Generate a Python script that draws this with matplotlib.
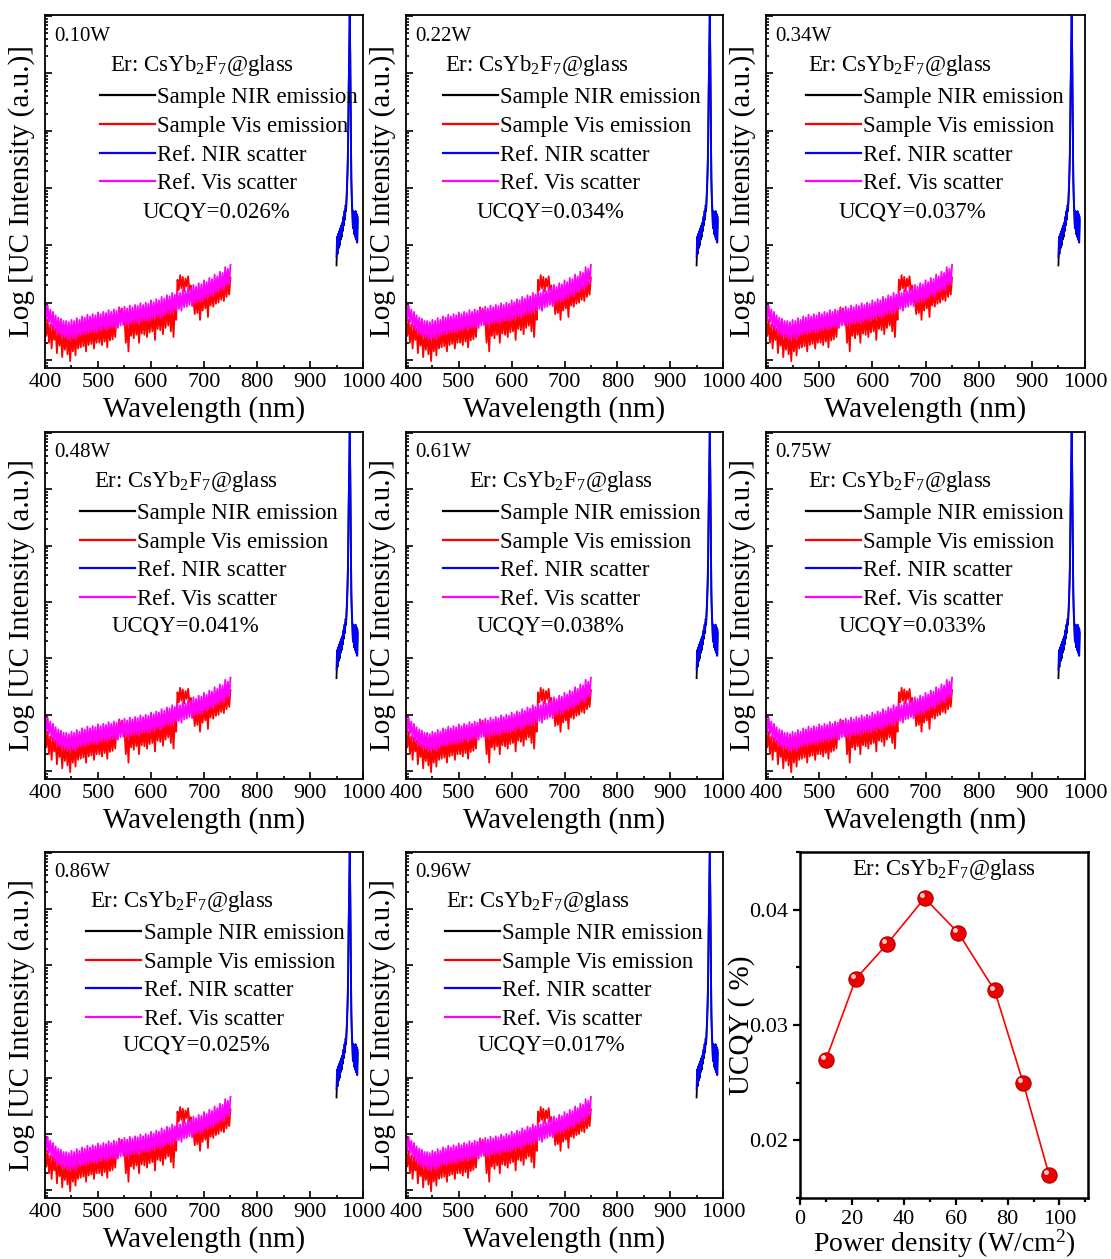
import numpy as np
import matplotlib.pyplot as plt
from matplotlib.ticker import MultipleLocator, LogLocator, NullFormatter
from matplotlib.transforms import ScaledTranslation

plt.rcParams['font.family'] = ['Liberation Serif', 'DejaVu Serif']
plt.rcParams['mathtext.fontset'] = 'custom'
plt.rcParams['mathtext.rm'] = 'Liberation Serif'
plt.rcParams['mathtext.it'] = 'Liberation Serif:italic'

# === DATA (log10 of intensity) ===
powers = ['0.10W', '0.22W', '0.34W', '0.48W', '0.61W', '0.75W', '0.86W', '0.96W']
ucqy_labels = ['0.026', '0.034', '0.037', '0.041', '0.038', '0.033', '0.025', '0.017']

# visible range, 2.5 nm steps
vis_wl = np.arange(400, 750.1, 2.5)
vis_scatter = [1.02, 0.70, 0.95, 0.66, 0.88, 0.58, 0.84, 0.55,
               0.78, 0.47, 0.74, 0.45, 0.72, 0.40, 0.68, 0.42,
               0.68, 0.36, 0.66, 0.38, 0.70, 0.39, 0.68, 0.36,
               0.73, 0.42, 0.70, 0.44, 0.76, 0.45, 0.74, 0.46,
               0.79, 0.47, 0.76, 0.49, 0.80, 0.50, 0.78, 0.48,
               0.83, 0.52, 0.80, 0.53, 0.84, 0.55, 0.82, 0.52,
               0.87, 0.56, 0.84, 0.57, 0.88, 0.58, 0.86, 0.56,
               0.90, 0.60, 0.88, 0.61, 0.93, 0.62, 0.90, 0.60,
               0.95, 0.64, 0.92, 0.65, 0.96, 0.66, 0.94, 0.64,
               0.99, 0.68, 0.96, 0.69, 1.00, 0.70, 0.98, 0.68,
               1.04, 0.72, 1.01, 0.74, 1.06, 0.76, 1.04, 0.73,
               1.10, 0.78, 1.07, 0.80, 1.13, 0.83, 1.11, 0.80,
               1.17, 0.86, 1.14, 0.87, 1.19, 0.89, 1.17, 0.86,
               1.23, 0.92, 1.20, 0.93, 1.26, 0.96, 1.24, 0.94,
               1.31, 1.00, 1.28, 1.01, 1.34, 1.04, 1.32, 1.02,
               1.39, 1.08, 1.36, 1.09, 1.43, 1.13, 1.41, 1.11,
               1.49, 1.18, 1.46, 1.19, 1.54, 1.24, 1.52, 1.22,
               1.62, 1.31, 1.59, 1.32, 1.66]
vis_emission = [0.75, 0.42, 0.70, 0.30, 0.62, 0.20, 0.60, 0.35,
                0.55, 0.12, 0.52, 0.25, 0.48, 0.05, 0.46, 0.18,
                0.45, 0.10, 0.44, -0.02, 0.47, 0.15, 0.45, 0.08,
                0.50, 0.20, 0.48, 0.22, 0.54, 0.24, 0.52, 0.15,
                0.56, 0.26, 0.54, 0.28, 0.58, 0.20, 0.56, 0.30,
                0.60, 0.30, 0.58, 0.26, 0.62, 0.32, 0.60, 0.22,
                0.64, 0.34, 0.62, 0.36, 0.66, 0.40, 0.78, 0.62,
                0.92, 0.70, 0.90, 0.66, 0.72, 0.30, 0.68, 0.15,
                0.72, 0.42, 0.70, 0.38, 0.74, 0.44, 0.72, 0.30,
                0.76, 0.46, 0.74, 0.44, 0.78, 0.40, 0.76, 0.48,
                0.81, 0.50, 0.79, 0.35, 0.84, 0.54, 0.82, 0.52,
                0.87, 0.45, 0.85, 0.56, 0.90, 0.60, 0.88, 0.50,
                0.94, 0.40, 0.92, 0.70, 1.40, 1.22, 1.48, 1.25,
                1.45, 1.20, 1.42, 1.28, 1.46, 1.22, 1.30, 1.00,
                1.08, 0.80, 1.06, 0.82, 1.12, 0.70, 1.10, 0.86,
                1.16, 0.90, 1.14, 0.75, 1.21, 0.95, 1.19, 0.93,
                1.26, 0.98, 1.24, 1.00, 1.31, 1.05, 1.29, 1.03,
                1.38, 1.10, 1.36, 1.14, 1.44]

# NIR range, 1 nm steps
nir_wl = np.arange(950, 991)
nir_scatter = [1.80, 2.15, 1.90, 2.20, 2.00, 2.25, 2.05, 2.30, 2.15, 2.35,
               2.20, 2.40, 2.30, 2.50, 2.40, 2.60, 2.50, 2.70, 2.65, 2.85,
               3.10, 3.40, 3.90, 4.80, 5.40, 6.10, 5.30, 4.20, 3.20, 2.80,
               2.60, 2.30, 2.60, 2.20, 2.55, 2.15, 2.60, 2.10, 2.55, 2.05,
               2.50]
nir_emission = [1.65, 1.95, 1.85, 2.05, 1.95, 2.15, 2.00, 2.20, 2.10, 2.30,
                2.15, 2.35, 2.25, 2.45, 2.35, 2.55, 2.45, 2.65, 2.60, 2.80,
                3.00, 3.30, 3.80, 4.70, 5.30, 6.00, 5.20, 4.10, 3.10, 2.75,
                2.55, 2.30, 2.50, 2.20, 2.50, 2.15, 2.50, 2.10, 2.50, 2.05,
                2.45]

power_density = [10, 21.5, 33.5, 48, 61, 75, 86, 96]
ucqy = [0.027, 0.034, 0.037, 0.041, 0.038, 0.033, 0.025, 0.017]

# === LAYOUT (pixel boxes: left, top, right, bottom) ===
W, H = 1111, 1259
col_x = [(45, 363), (406, 723), (766, 1085)]
row_y = [(15, 368), (432, 779), (852, 1198)]
legend_x = [0.173, 0.117, 0.125, 0.11, 0.117, 0.125, 0.13, 0.123]
title_x = [0.494, 0.413, 0.42, 0.443, 0.49, 0.42, 0.43, 0.416]
ucqy_x = [0.54, 0.457, 0.46, 0.443, 0.457, 0.46, 0.475, 0.46]


def add_box(fig, left, top, right, bottom):
    return fig.add_axes([left / W, 1 - bottom / H, (right - left) / W, (bottom - top) / H])


fig = plt.figure(figsize=(W / 100, H / 100), dpi=100)
fs = 16.5

for i, p in enumerate(powers):
    r, c = divmod(i, 3)
    ax = add_box(fig, col_x[c][0], row_y[r][0], col_x[c][1], row_y[r][1])
    ax.plot(nir_wl, 10 ** np.array(nir_emission), color='black', lw=1.3, label='Sample NIR emission')
    ax.plot(vis_wl, 10 ** np.array(vis_emission), color='red', lw=1.3, label='Sample Vis emission')
    ax.plot(nir_wl, 10 ** np.array(nir_scatter), color='blue', lw=1.3, label='Ref. NIR scatter')
    ax.plot(vis_wl, 10 ** np.array(vis_scatter), color='magenta', lw=1.3, label='Ref. Vis scatter')

    ax.set_yscale('log')
    ax.set_xlim(400, 1000)
    ax.set_ylim(10 ** -0.14, 10 ** 6.02)
    ax.xaxis.set_major_locator(MultipleLocator(100))
    ax.xaxis.set_minor_locator(MultipleLocator(50))
    ax.yaxis.set_major_locator(LogLocator(base=10, numticks=20))
    ax.yaxis.set_minor_locator(LogLocator(base=10, subs=np.arange(2, 10), numticks=20))
    ax.yaxis.set_major_formatter(NullFormatter())
    ax.yaxis.set_minor_formatter(NullFormatter())
    ax.tick_params(which='both', direction='in', top=False, right=False, width=1.2)
    ax.tick_params(which='major', length=5, labelsize=16)
    ax.tick_params(which='minor', length=2.5)
    for s in ax.spines.values():
        s.set_linewidth(1.3)

    ax.set_xlabel('Wavelength (nm)', fontsize=21, labelpad=3)
    ax.set_ylabel('Log [UC Intensity (a.u.)]', fontsize=21, labelpad=4)

    ax.text(0.03, 0.94, p, transform=ax.transAxes, fontsize=15, ha='left', va='center')
    ax.text(title_x[i], 0.858, 'Er: CsYb$_2$F$_7$@glass', transform=ax.transAxes,
            fontsize=fs, ha='center', va='center')
    leg = ax.legend(loc='upper left', bbox_to_anchor=(legend_x[i], 0.795), frameon=False,
                    fontsize=fs, handlelength=2.4, handletextpad=0.1, labelspacing=0.33,
                    borderpad=0, borderaxespad=0)
    for h in leg.get_lines():
        h.set_linewidth(1.6)
    ax.text(ucqy_x[i], 0.442, f'UCQY={ucqy_labels[i]}%', transform=ax.transAxes,
            fontsize=fs, ha='center', va='center')

# === UCQY vs power density ===
ax = add_box(fig, 800, 852, 1088, 1198)
ax.plot(power_density, ucqy, color='red', lw=1.2, zorder=2)
ax.plot(power_density, ucqy, 'o', ms=11, mfc='#ee0000', mec='#b00000', mew=0.8, zorder=3)
shift = ScaledTranslation(-2 / 72, 2 / 72, fig.dpi_scale_trans)
ax.plot(power_density, ucqy, 'o', ms=3.5, mfc='#ffd0d0', mec='none', zorder=4,
        transform=ax.transData + shift)
ax.set_xlim(0, 111)
ax.set_ylim(0.015, 0.045)
ax.xaxis.set_major_locator(MultipleLocator(20))
ax.xaxis.set_minor_locator(MultipleLocator(10))
ax.yaxis.set_major_locator(MultipleLocator(0.01))
ax.yaxis.set_minor_locator(MultipleLocator(0.005))
ax.tick_params(which='both', direction='out', top=False, right=False, width=1.6, labelsize=16)
ax.tick_params(which='major', length=5)
ax.tick_params(which='minor', length=3)
for s in ax.spines.values():
    s.set_linewidth(1.8)
ax.set_xlabel('Power density (W/cm$^2$)', fontsize=20, labelpad=-1)
ax.set_ylabel('UCQY ( %)', fontsize=21, labelpad=-4)
ax.text(0.5, 0.95, 'Er: CsYb$_2$F$_7$@glass', transform=ax.transAxes,
        fontsize=fs, ha='center', va='center')

fig.savefig('out.png', dpi=100)
